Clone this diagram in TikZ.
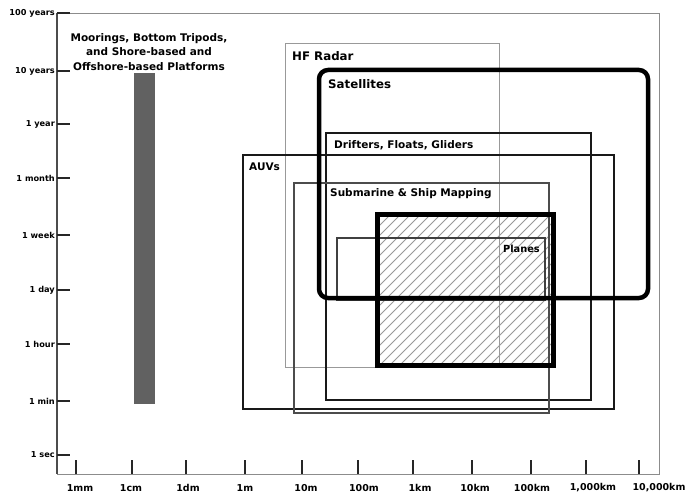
\documentclass[tikz,border=0pt]{standalone}
\usepackage{fontspec}
\setmainfont{DejaVu Sans}
\begin{document}
\begin{tikzpicture}[x=1pt,y=-1pt,
  lab/.style={font=\bfseries\fontsize{10.5}{12}\selectfont, anchor=west, inner sep=0pt},
  ylab/.style={font=\bfseries\fontsize{8.2}{9}\selectfont, anchor=east, inner sep=0pt},
  xlab/.style={font=\bfseries\fontsize{9.5}{11}\selectfont, inner sep=0pt},
  tickline/.style={line width=1.6pt, black!85},
  frameline/.style={line width=0.9pt, black!45},
  hatchline/.style={line width=0.8pt, black!40},
  thickbox/.style={line width=4.5pt, black},
  midbox/.style={line width=1.8pt, black!90},
]
\useasboundingbox (0,0) rectangle (686,495);
% frame
\draw[frameline] (57,13) -- (659,13) -- (659,474) -- (57,474);
\draw[line width=1.5pt, black!70] (57,13) -- (57,474);
% y ticks and labels
\foreach \y/\t [count=\i] in {13/100 years,71/10 years,124/1 year,178/1 month,235/1 week,290/1 day,344/1 hour,401/1 min,455/1 sec}{
  \draw[tickline] (57,\y) -- (70,\y);
  \node[ylab] (yl\i) at (55,\y) {\t};
}
% x ticks
\foreach \x [count=\i] in {76,132,186,245,302,358,413,472,531,586,639}{
  \draw[tickline] (\x,460) -- (\x,474);
}
\foreach \x/\t [count=\i] in {80/1mm,131/1cm,188/1dm,245/1m,306/10m,364/100m,420/1km,475/10km,532/100km,593/{1,000km},659/{10,000km}}{
  \node[xlab] (xl\i) at (\x,488) {\t};
}
% moorings bar
\fill[black!62] (134,73) rectangle (155,404);
\node[font=\bfseries\fontsize{10.5}{14.5}\selectfont, align=center, inner sep=0pt] (moor) at (149,52)
  {Moorings, Bottom Tripods,\\and Shore-based and\\Offshore-based Platforms};
% hatching of planes box
\begin{scope}
  \clip (377,214) rectangle (553,365);
  \foreach \x in {220,230,...,560}{
    \draw[hatchline] (\x,365) -- ++(151,-151);
  }
\end{scope}
% HF radar
\draw[line width=1pt, black!40] (285,44) rectangle (499,367);
\node[lab, font=\bfseries\fontsize{11.8}{13}\selectfont] (hf) at (292,56) {HF Radar};
% AUVs
\draw[midbox] (243,155) rectangle (614,409);
\node[lab] (auv) at (249,167) {AUVs};
% Drifters
\draw[midbox] (326,133) rectangle (591,400);
\node[lab] (drift) at (334,145) {Drifters, Floats, Gliders};
% Submarine
\draw[line width=2.4pt, black!70] (294,183) rectangle (549,413);
\node[lab] (sub) at (330,194) {Submarine \& Ship Mapping};
% Planes thin
\draw[line width=1.4pt, black!75] (337,238) rectangle (545,300);
\node[lab, font=\bfseries\fontsize{9.8}{11}\selectfont] (plan) at (503,249) {Planes};
% Satellites
\draw[thickbox, rounded corners=9pt] (319,70) rectangle (648,298);
\node[lab, font=\bfseries\fontsize{11.8}{13}\selectfont] (sat) at (328,84) {Satellites};
% Planes thick
\draw[thickbox, line width=5pt] (377,214) rectangle (553,365);
\end{tikzpicture}
\end{document}
